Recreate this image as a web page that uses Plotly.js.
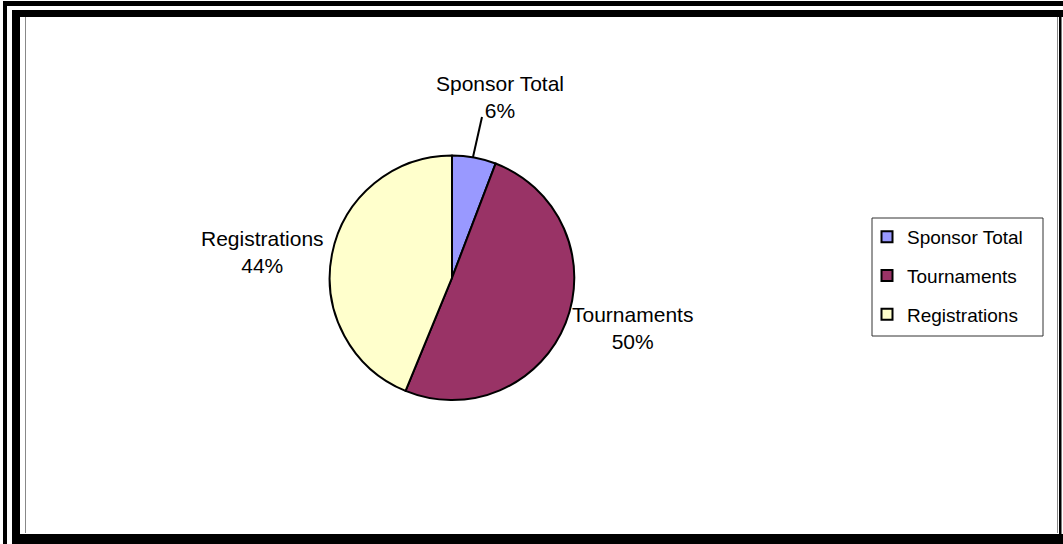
<!DOCTYPE html>
<html><head><meta charset="utf-8">
<script src="https://cdn.plot.ly/plotly-3.0.1.min.js"></script>
<style>html,body{margin:0;padding:0;background:#fff;}#chart{width:1063px;height:544px;}</style>
</head><body><div id="chart"></div>
<script>
// ---- data ----
const categories = ["Sponsor Total", "Tournaments", "Registrations"];
const shares = [5.8, 50.4, 43.8];
const sliceColors = ["#9999FF", "#993366", "#FFFFCC"];

// ---- helpers ----
const W = 1063, H = 544;
const px = x => x / W, py = y => 1 - y / H;
const total = shares.reduce((a, b) => a + b, 0);
const pctText = shares.map(v => Math.round(v / total * 100) + "%");

const cx = 452, cy = 277.8, r = 122.3;
const font = {family: "Liberation Sans, Arial, sans-serif", color: "#000"};

const pie = {
  type: "pie", labels: categories, values: shares, sort: false,
  direction: "clockwise", rotation: 0,
  marker: {colors: sliceColors, line: {color: "#000", width: 2}},
  textinfo: "none", hoverinfo: "label+percent", showlegend: false,
  domain: {x: [px(cx - r), px(cx + r)], y: [py(cy + r), py(cy - r)]}
};

const legendTraces = categories.map((c, i) => ({
  type: "scatter", mode: "markers", x: [null], y: [null], name: c,
  legendgroup: "g" + i, hoverinfo: "skip",
  marker: {symbol: "square", size: 11, color: sliceColors[i], line: {color: "#000", width: 2}}
}));

// label placement (layout positions)
const labelPos = [[499.5, 97], [632, 327.5], [262.5, 251.5]];
const annotations = categories.map((c, i) => ({
  xref: "paper", yref: "paper", x: px(labelPos[i][0]), y: py(labelPos[i][1]),
  xanchor: "center", yanchor: "middle", showarrow: false,
  text: c + "<br>" + pctText[i], font: Object.assign({size: 21}, font), align: "center"
}));

function rect(x0, y0, x1, y1, color) {
  return {type: "rect", xref: "paper", yref: "paper", x0: px(x0), x1: px(x1), y0: py(y1), y1: py(y0),
    fillcolor: color, line: {width: 0}, layer: "above"};
}
const shapes = [
  rect(3, 1, 1063, 6, "#000"),
  rect(3, 1, 7, 544, "#000"),
  rect(12, 10, 1063, 17, "#000"),
  rect(12, 10, 20, 544, "#000"),
  rect(12, 534, 1063, 544, "#000"),
  rect(1059, 10, 1061.5, 544, "#000"),
  rect(25, 17, 26, 533, "#888"),
  rect(1057, 17, 1058, 533, "#888"),
  // leader line for the small slice
  {type: "line", xref: "paper", yref: "paper", x0: px(482), y0: py(117), x1: px(473), y1: py(157),
   line: {color: "#000", width: 2}},
  // legend frame
  {type: "rect", xref: "paper", yref: "paper", x0: px(872), x1: px(1043), y0: py(336), y1: py(218),
   line: {color: "#333", width: 1}, fillcolor: "rgba(0,0,0,0)"}
];

const layout = {
  width: W, height: H, margin: {l: 0, r: 0, t: 0, b: 0},
  paper_bgcolor: "#fff", plot_bgcolor: "rgba(0,0,0,0)",
  xaxis: {visible: false}, yaxis: {visible: false},
  showlegend: true,
  legend: {x: px(867), y: py(218), xanchor: "left", yanchor: "top",
    bgcolor: "rgba(0,0,0,0)", borderwidth: 0, traceorder: "grouped", tracegroupgap: 11,
    font: Object.assign({size: 19}, font), itemclick: false, itemdoubleclick: false},
  annotations: annotations, shapes: shapes
};

Plotly.newPlot("chart", [pie].concat(legendTraces), layout, {displayModeBar: false, staticPlot: true});
</script>
</body></html>
